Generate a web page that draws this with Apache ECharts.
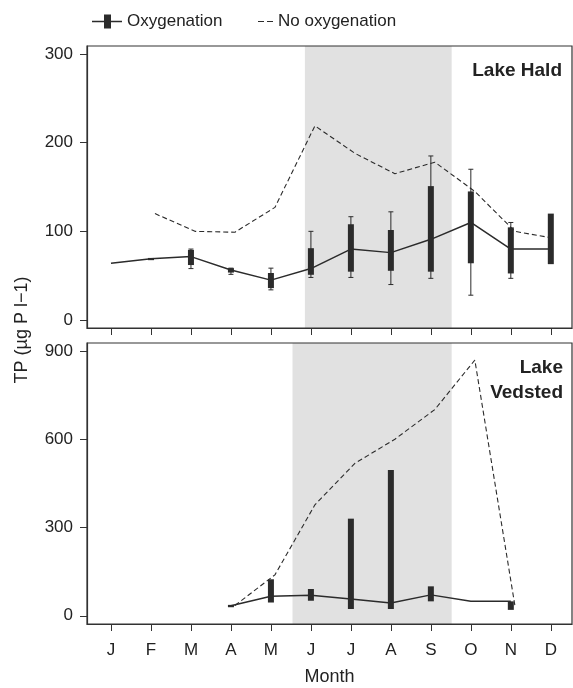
<!DOCTYPE html>
<html>
<head>
<meta charset="utf-8">
<script src="https://cdn.jsdelivr.net/npm/echarts@6/dist/echarts.min.js"></script>
<style>
  html, body { margin: 0; padding: 0; background: #fff; }
  #chart { width: 573px; height: 688px; }
</style>
</head>
<body>
<div id="chart"></div>
<script>
// months on the x axis (1 = Jan)
let months = [1, 2, 3, 4, 5, 6, 7, 8, 9, 10, 11, 12];
let monthLabels = ["J", "F", "M", "A", "M", "J", "J", "A", "S", "O", "N", "D"];

// Lake Hald, oxygenation: median line, box (low/high), whiskers (min/max)
let haldMedian = [64, 69, 71.5, 56.5, 45, 58, 80, 76, 91, 110, 80, 80];
let haldBoxLow = [null, 67.5, 62, 53.5, 36, 51, 54.5, 55.5, 54.5, 64, 52.5, 63];
let haldBoxHigh = [null, 70, 79, 58.5, 53, 81, 108, 101.5, 151, 145, 104.5, 120];
let haldMin = [null, null, 58, 51.5, 34, 48, 48, 40, 47, 28, 47, null];
let haldMax = [null, null, 80, 58.5, 58.5, 100, 116.5, 122, 185, 170, 110, null];
// Lake Hald, no oxygenation
let haldNoOx = [null, 120, 100, 99, 127, 219, 188, 165, 178, 145, 100, 92];
let haldShade = [5.85, 9.52];

// Lake Vedsted
let vedMedian = [null, null, null, 34, 66, 70, 57, 43, 71, 49, 49, null];
let vedBoxLow = [null, null, null, 29, 45, 51, 23, 23, 49, null, 20, null];
let vedBoxHigh = [null, null, null, 37, 124, 91, 330, 495, 100, null, 49, null];
let vedNoOx = [null, null, null, 35, 139, 377, 518, 600, 701, 869, 36, null];
let vedShade = [5.54, 9.52];

let ink = "#2b2b2b";
let font = "'Liberation Sans', Arial, sans-serif";
let noOxShift = 0.1;

function pairs(ys, shift) {
  let out = [];
  ys.forEach(function (y, i) {
    if (y != null) out.push([months[i] + (shift || 0), y]);
  });
  return out;
}

function boxes(lo, hi, wmin, wmax) {
  let out = [];
  months.forEach(function (m, i) {
    if (lo[i] != null) {
      out.push([m, lo[i], hi[i], wmin ? wmin[i] : null, wmax ? wmax[i] : null]);
    }
  });
  return out;
}

function renderBox(params, api) {
  let x = api.value(0), lo = api.value(1), hi = api.value(2),
    wlo = api.value(3), whi = api.value(4);
  let kids = [];
  if (isFinite(wlo) && isFinite(whi) && wlo !== null && whi !== null) {
    let p1 = api.coord([x, wlo]), p2 = api.coord([x, whi]);
    kids.push({ type: "line", shape: { x1: p1[0], y1: p1[1], x2: p2[0], y2: p2[1] },
      style: { stroke: ink, lineWidth: 1 } });
    kids.push({ type: "line", shape: { x1: p1[0] - 2.5, y1: p1[1], x2: p1[0] + 2.5, y2: p1[1] },
      style: { stroke: ink, lineWidth: 1 } });
    kids.push({ type: "line", shape: { x1: p2[0] - 2.5, y1: p2[1], x2: p2[0] + 2.5, y2: p2[1] },
      style: { stroke: ink, lineWidth: 1 } });
  }
  let a = api.coord([x, hi]), b = api.coord([x, lo]);
  kids.push({ type: "rect", shape: { x: a[0] - 3, y: a[1], width: 6, height: Math.max(b[1] - a[1], 2) },
    style: { fill: ink } });
  return { type: "group", children: kids };
}

function xAxisFor(grid, showLabels) {
  return {
    type: "value", gridIndex: grid, min: 0.4, max: 12.53,
    splitLine: { show: false },
    axisLine: { show: true, onZero: false, lineStyle: { color: "#333", width: 1.2 } },
    axisTick: { show: true, length: 7, customValues: months, lineStyle: { color: "#333" } },
    axisLabel: {
      show: showLabels, customValues: months, margin: 18, color: "#222", fontSize: 17, fontFamily: font,
      formatter: function (v) { return monthLabels[Math.round(v) - 1]; }
    },
    name: showLabels ? "Month" : "", nameLocation: "middle", nameGap: 44,
    nameTextStyle: { color: "#222", fontSize: 18, fontFamily: font }
  };
}

function yAxisFor(grid, min, max, ticks) {
  return {
    type: "value", gridIndex: grid, min: min, max: max,
    splitLine: { show: false },
    axisLine: { show: true, onZero: false, lineStyle: { color: "#333", width: 1.2 } },
    axisTick: { show: true, length: 7, customValues: ticks, lineStyle: { color: "#333" } },
    axisLabel: { customValues: ticks, margin: 14, color: "#222", fontSize: 17, fontFamily: font }
  };
}

function shadeArea(range) {
  return {
    silent: true,
    itemStyle: { color: "#e1e1e1" },
    data: [[{ xAxis: range[0] }, { xAxis: range[1] }]]
  };
}

let chart = echarts.init(document.getElementById("chart"));

let option = {
  animation: false,
  backgroundColor: "#fff",
  textStyle: { fontFamily: font },
  grid: [
    { left: 87, top: 46, width: 485, height: 282, show: true, borderColor: "#333", borderWidth: 1.2, z: 10 },
    { left: 87, top: 343, width: 485, height: 281, show: true, borderColor: "#333", borderWidth: 1.2, z: 10 }
  ],
  legend: [{
    left: 87, top: 8, itemWidth: 30, itemHeight: 14, itemGap: 10,
    textStyle: { color: "#222", fontSize: 17, fontFamily: font },
    data: [{ name: "Oxygenation", icon: "path://M0,6.3 H30 V7.7 H0 Z M12,0 H19 V14 H12 Z", itemStyle: { color: ink } }]
  }, {
    left: 253, top: 8, itemWidth: 15, itemHeight: 1.5, itemGap: 10,
    textStyle: { color: "#222", fontSize: 17, fontFamily: font },
    data: [{ name: "No oxygenation", icon: "path://M0,0 H6 V1 H0 Z M9,0 H15 V1 H9 Z", itemStyle: { color: ink } }]
  }],
  xAxis: [xAxisFor(0, false), xAxisFor(1, true)],
  yAxis: [yAxisFor(0, -9, 309, [0, 100, 200, 300]), yAxisFor(1, -28, 927, [0, 300, 600, 900])],
  graphic: [
    { type: "text", x: 22, y: 330, rotation: Math.PI / 2,
      style: { text: "TP (µg P l−1)", fill: "#222", font: "18px " + font, align: "center", verticalAlign: "middle" } },
    { type: "text", x: 562, y: 71,
      style: { text: "Lake Hald", fill: "#222", font: "bold 19px " + font, align: "right", verticalAlign: "middle" } },
    { type: "text", x: 563, y: 380,
      style: { text: "Lake\nVedsted", fill: "#222", font: "bold 19px " + font, lineHeight: 25, align: "right", verticalAlign: "middle" } }
  ],
  series: [
    { name: "shadeHald", type: "line", xAxisIndex: 0, yAxisIndex: 0, data: [], markArea: shadeArea(haldShade), z: 1 },
    { name: "shadeVed", type: "line", xAxisIndex: 1, yAxisIndex: 1, data: [], markArea: shadeArea(vedShade), z: 1 },
    { name: "No oxygenation", type: "line", xAxisIndex: 0, yAxisIndex: 0, data: pairs(haldNoOx, noOxShift),
      showSymbol: false, symbol: "none", itemStyle: { color: ink },
      lineStyle: { color: ink, width: 1.1, type: [5, 3] }, z: 3 },
    { name: "Oxygenation", type: "line", xAxisIndex: 0, yAxisIndex: 0, data: pairs(haldMedian),
      showSymbol: false, symbol: "none", itemStyle: { color: ink },
      lineStyle: { color: ink, width: 1.5 }, z: 3 },
    { name: "Oxygenation", type: "custom", xAxisIndex: 0, yAxisIndex: 0, renderItem: renderBox,
      data: boxes(haldBoxLow, haldBoxHigh, haldMin, haldMax), z: 4 },
    { name: "No oxygenation", type: "line", xAxisIndex: 1, yAxisIndex: 1, data: pairs(vedNoOx, noOxShift),
      showSymbol: false, symbol: "none", itemStyle: { color: ink },
      lineStyle: { color: ink, width: 1.1, type: [5, 3] }, z: 3 },
    { name: "Oxygenation", type: "line", xAxisIndex: 1, yAxisIndex: 1, data: pairs(vedMedian),
      showSymbol: false, symbol: "none", itemStyle: { color: ink },
      lineStyle: { color: ink, width: 1.5 }, z: 3 },
    { name: "Oxygenation", type: "custom", xAxisIndex: 1, yAxisIndex: 1, renderItem: renderBox,
      data: boxes(vedBoxLow, vedBoxHigh), z: 4 }
  ]
};

chart.setOption(option, true);
</script>
</body>
</html>
